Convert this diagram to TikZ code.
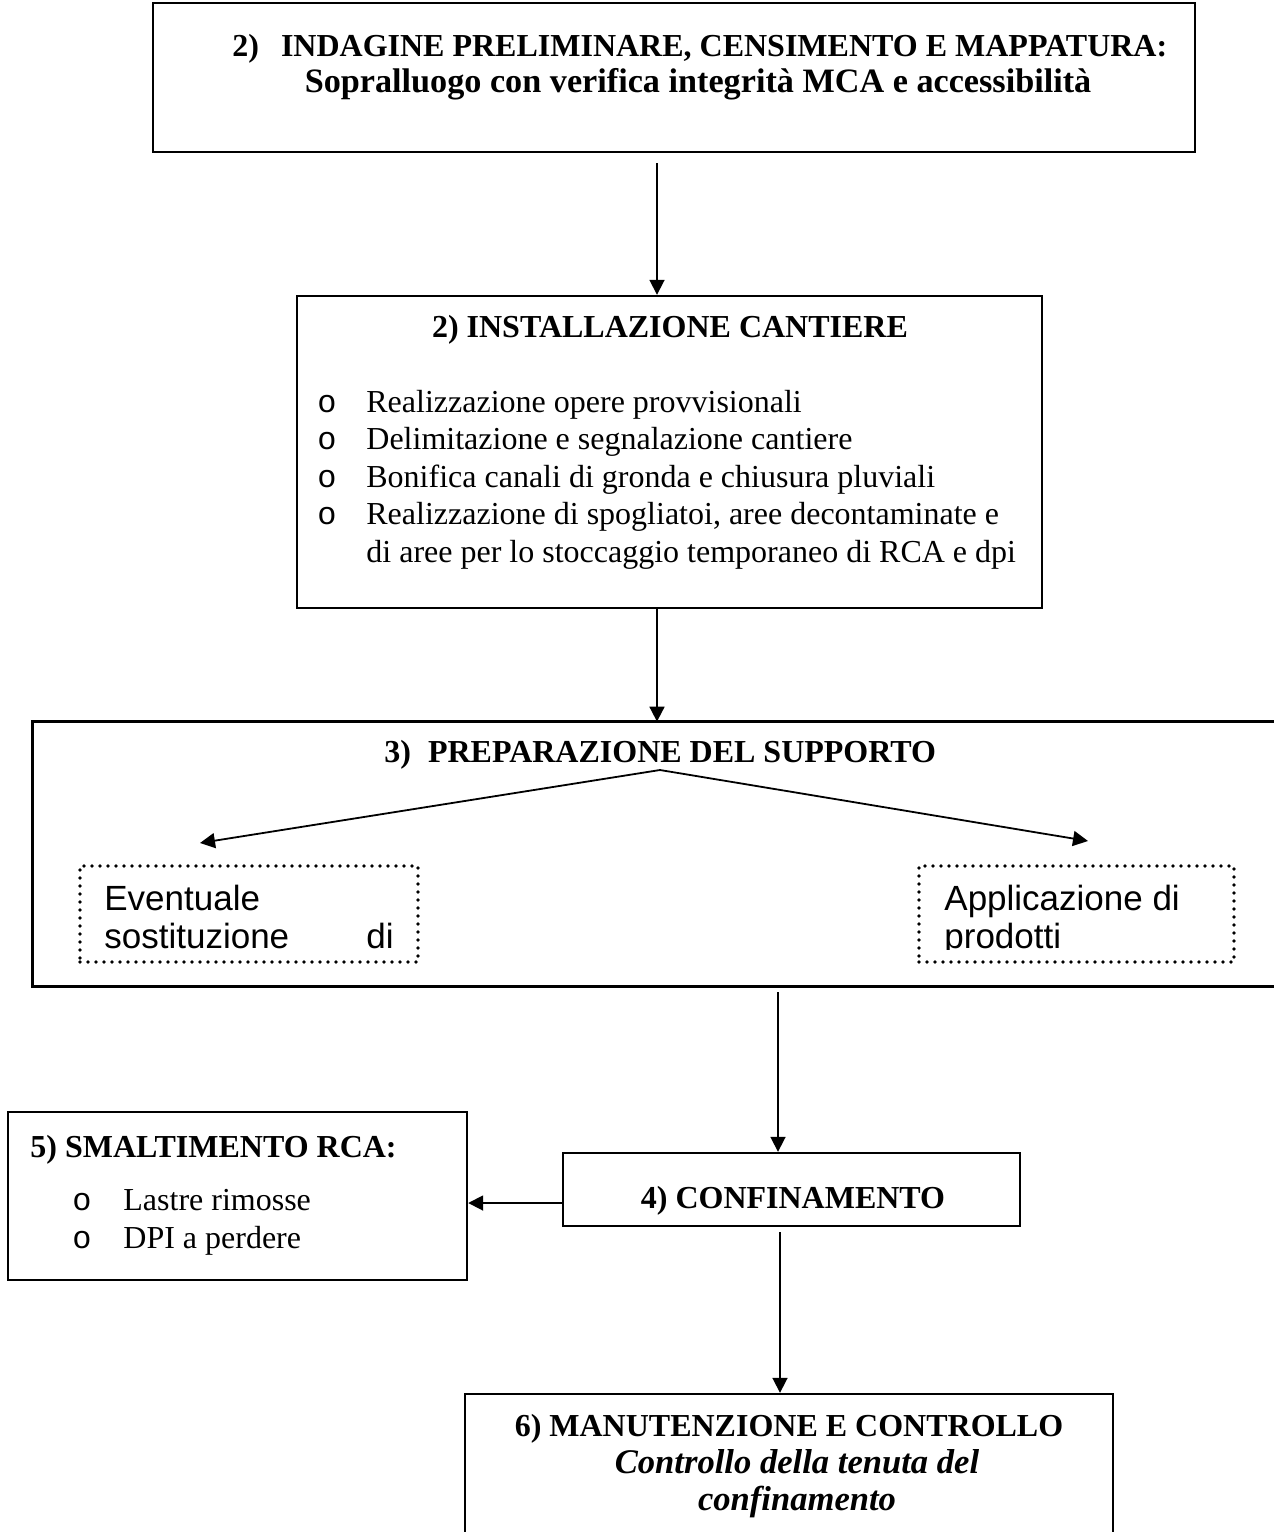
\documentclass[tikz,border=0pt]{standalone}
\usepackage{fontspec}
\setmainfont{Liberation Serif}
\setsansfont{Liberation Sans}
\setmonofont{Liberation Mono}
\usetikzlibrary{arrows.meta,calc}
\begin{document}
\begin{tikzpicture}[x=0.5pt,y=-0.5pt,
  box/.style={draw, line width=1.2pt, inner sep=0pt},
  openbox/.style={inner sep=0pt},
  dotbox/.style={draw, line width=1.8pt, dash pattern=on 0pt off 4pt, line cap=round, inner sep=0pt},
  arr/.style={line width=0.9pt, -{Triangle[length=7.5pt,width=7.5pt]}},
  ser/.style={font=\fontsize{16}{18.75}\selectfont, inner sep=0pt},
  serb/.style={font=\fontsize{16}{18.75}\selectfont\bfseries, inner sep=0pt},
  serbl/.style={font=\fontsize{17.1}{20}\selectfont\bfseries, inner sep=0pt},
  seri/.style={font=\fontsize{17.3}{20}\selectfont\bfseries\itshape, inner sep=0pt},
  sans/.style={font=\sffamily\fontsize{17.5}{19}\selectfont, inner sep=0pt},
  bul/.style={font=\ttfamily\fontsize{16}{18.75}\selectfont, inner sep=0pt},
]
\useasboundingbox (0,0) rectangle (1274,1532);
\clip (0,0) rectangle (1274,1532);

% boxes
\node[box, minimum width=521pt, minimum height=74.5pt] (b1) at (674,77.5) {};
\node[box, minimum width=372.5pt, minimum height=156pt] (b2) at (669.5,452) {};
\node[openbox, minimum width=623.5pt, minimum height=132pt] (b3) at (656.5,854) {};
\draw[line width=1.2pt] (b3.north east) -- (b3.north west) -- (b3.south west) -- (b3.south east);
\node[box, minimum width=228.5pt, minimum height=36.5pt] (b4) at (791.5,1189.5) {};
\node[box, minimum width=229.5pt, minimum height=84pt] (b5) at (237.5,1196) {};
\node[box, minimum width=324pt, minimum height=75.5pt] (b6) at (789,1469.5) {};
\node[dotbox, minimum width=169pt, minimum height=48pt] (d1) at (249,914) {};
\node[dotbox, minimum width=157.5pt, minimum height=48pt] (d2) at (1076.5,914) {};

% box 1 text
\node[serb, anchor=base west] (t1a) at (232,56) {2)\hspace{11pt}INDAGINE PRELIMINARE, CENSIMENTO E MAPPATURA:};
\node[serbl, anchor=base] (t1b) at (698,92) {Sopralluogo con verifica integrità MCA e accessibilità};

% box 2 text
\node[serb, anchor=base] (t2) at (670,337) {2) INSTALLAZIONE CANTIERE};
\foreach \yy/\txt [count=\i] in {412/Realizzazione opere provvisionali,
  449.5/Delimitazione e segnalazione cantiere,
  487/Bonifica canali di gronda e chiusura pluviali,
  524.5/{Realizzazione di spogliatoi, aree decontaminate e}} {
  \node[bul, anchor=base] (o2\i) at (327,\yy) {o};
  \node[ser, anchor=base west] (l2\i) at (366,\yy) {\txt};
}
\node[ser, anchor=base west] (l25) at (366,562) {di aree per lo stoccaggio temporaneo di RCA e dpi};

% box 3 text
\node[serb, anchor=base west] (t3) at (384,762) {3)\hspace{8.5pt}PREPARAZIONE DEL SUPPORTO};
\coordinate (apex) at (660,770);
\coordinate (tl) at (200,843);
\coordinate (tr) at (1088,841);
\draw[arr] (apex) -- (tl);
\draw[arr] (apex) -- (tr);

\begin{scope}
\clip (80,866) rectangle (418,949);
\node[sans, anchor=base west] (s1a) at (104,910) {Eventuale};
\node[sans, anchor=base west] (s1b) at (104,948) {sostituzione};
\node[sans, anchor=base east] (s1c) at (394,948) {di};
\end{scope}
\begin{scope}
\clip (919,866) rectangle (1234,949);
\node[sans, anchor=base west] (s2a) at (944,910) {Applicazione di};
\node[sans, anchor=base west] (s2b) at (944,948) {prodotti};
\end{scope}

% box 4, 5, 6 text
\node[serb, anchor=base] (t4) at (793,1208) {4) CONFINAMENTO};
\node[serb, anchor=base west] (t5) at (30,1157) {5) SMALTIMENTO RCA:};
\node[bul, anchor=base] (o51) at (82,1210) {o};
\node[ser, anchor=base west] (l51) at (123,1210) {Lastre rimosse};
\node[bul, anchor=base] (o52) at (82,1248) {o};
\node[ser, anchor=base west] (l52) at (123,1248) {DPI a perdere};
\node[serb, anchor=base] (t6) at (789,1436) {6) MANUTENZIONE E CONTROLLO};
\node[seri, anchor=base] (t6b) at (797,1473) {Controllo della tenuta del};
\node[seri, anchor=base] (t6c) at (797,1510) {confinamento};

% connectors
\coordinate (c1) at (657,163);
\draw[arr] (c1) -- (c1 |- b2.north);
\coordinate (c2) at (657,608);
\draw[arr] (c2) -- (c2 |- b3.north);
\coordinate (c3) at (778,992);
\draw[arr] (c3) -- (c3 |- b4.north);
\coordinate (c4) at (563,1203);
\draw[arr] (c4) -- (c4 -| b5.east);
\coordinate (c5) at (780,1232);
\draw[arr] (c5) -- (c5 |- b6.north);
\end{tikzpicture}
\end{document}
